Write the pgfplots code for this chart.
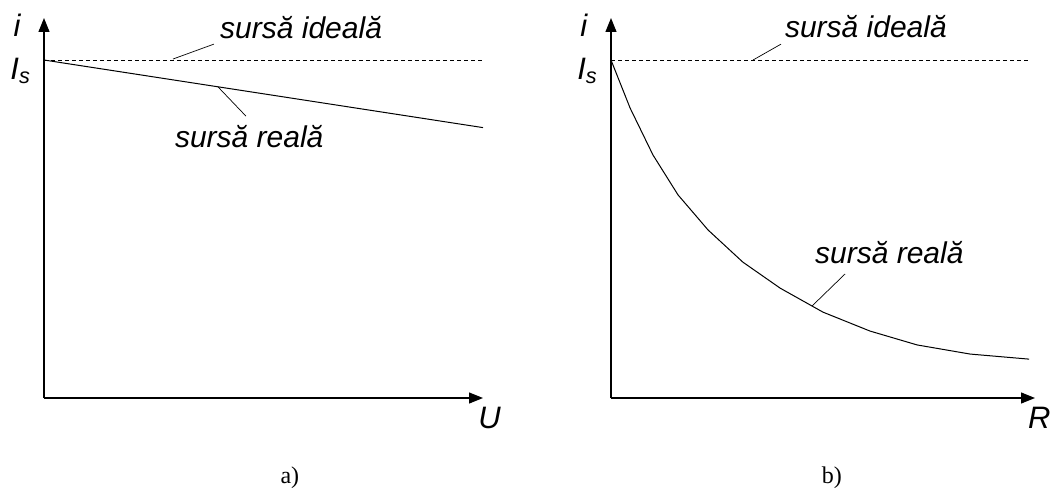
\documentclass[border=0pt]{standalone}
\usepackage{fontspec}
\setmainfont{Liberation Sans}
\newfontfamily\captionserif{Liberation Serif}
\usepackage{pgfplots}
\pgfplotsset{compat=1.18}
\usetikzlibrary{arrows.meta}

% current versus voltage (a) and current versus load resistance (b)
\pgfplotstableread{
x y
0 1.00
10 0.80
}\realU

\pgfplotstableread{
x y
0.00 1.000
0.45 0.858
0.99 0.719
1.58 0.601
2.29 0.497
3.11 0.402
3.99 0.325
5.00 0.254
6.11 0.198
7.22 0.157
8.47 0.130
9.86 0.115
}\realR

\pgfplotsset{
  sourceaxis/.style={
    scale only axis,
    axis lines=left,
    axis line style={line width=1.2pt, black, -{Triangle[length=14pt,width=11pt]}},
    xtick=\empty, ytick=\empty,
    xmin=0, xmax=10, ymin=0, ymax=1.1243,
    clip=false,
    height=380pt,
  },
}
\tikzset{
  curvelbl/.style={font=\fontsize{30}{32}\selectfont\itshape, inner sep=0pt},
  axlbl/.style={font=\fontsize{31}{33}\selectfont\itshape, inner sep=0pt},
  panelcap/.style={font=\fontsize{24}{26}\selectfont\captionserif, inner sep=0pt},
  ideal/.style={line width=0.7pt, dash pattern=on 4pt off 3pt},
}

\begin{document}
\begin{tikzpicture}
\useasboundingbox (0,0) rectangle (1050pt,499pt);

% a) current against terminal voltage
\begin{axis}[sourceaxis, width=439pt, at={(44pt,101pt)}, anchor=south west]
  \addplot[ideal] coordinates {(0,1) (10,1)};
  \addplot[black, line width=1pt] table[x=x,y=y] {\realU};
  \draw[line width=0.7pt] (axis cs:2.94,1.003) -- (axis cs:3.87,1.047);
  \draw[line width=0.7pt] (axis cs:3.96,0.921) -- (axis cs:4.60,0.834);
  \node[curvelbl, anchor=base west] at (axis cs:4.01,1.065) {sursă ideală};
  \node[curvelbl, anchor=base west] at (axis cs:2.98,0.740) {sursă reală};
  \node[axlbl, anchor=base] at (axis cs:-0.615,1.071) {i};
  \node[axlbl, anchor=base west] at (axis cs:-0.77,0.941) {I\textsubscript{s}};
  \node[axlbl, anchor=base west] at (axis cs:9.89,-0.089) {U};
  \node[panelcap, anchor=base] at (axis cs:5.60,-0.254) {a)};
\end{axis}

% b) current against load resistance
\begin{axis}[sourceaxis, width=424pt, at={(611pt,101pt)}, anchor=south west]
  \addplot[ideal] coordinates {(0,1) (9.9,1)};
  \addplot[black, line width=1pt] table[x=x,y=y] {\realR};
  \draw[line width=0.7pt] (axis cs:3.35,1.0) -- (axis cs:4.01,1.047);
  \draw[line width=0.7pt] (axis cs:4.74,0.272) -- (axis cs:5.52,0.367);
  \node[curvelbl, anchor=base west] at (axis cs:4.10,1.068) {sursă ideală};
  \node[curvelbl, anchor=base west] at (axis cs:4.81,0.399) {sursă reală};
  \node[axlbl, anchor=base] at (axis cs:-0.64,1.071) {i};
  \node[axlbl, anchor=base west] at (axis cs:-0.80,0.941) {I\textsubscript{s}};
  \node[axlbl, anchor=base west] at (axis cs:9.83,-0.089) {R};
  \node[panelcap, anchor=base] at (axis cs:5.21,-0.254) {b)};
\end{axis}
\end{tikzpicture}
\end{document}
